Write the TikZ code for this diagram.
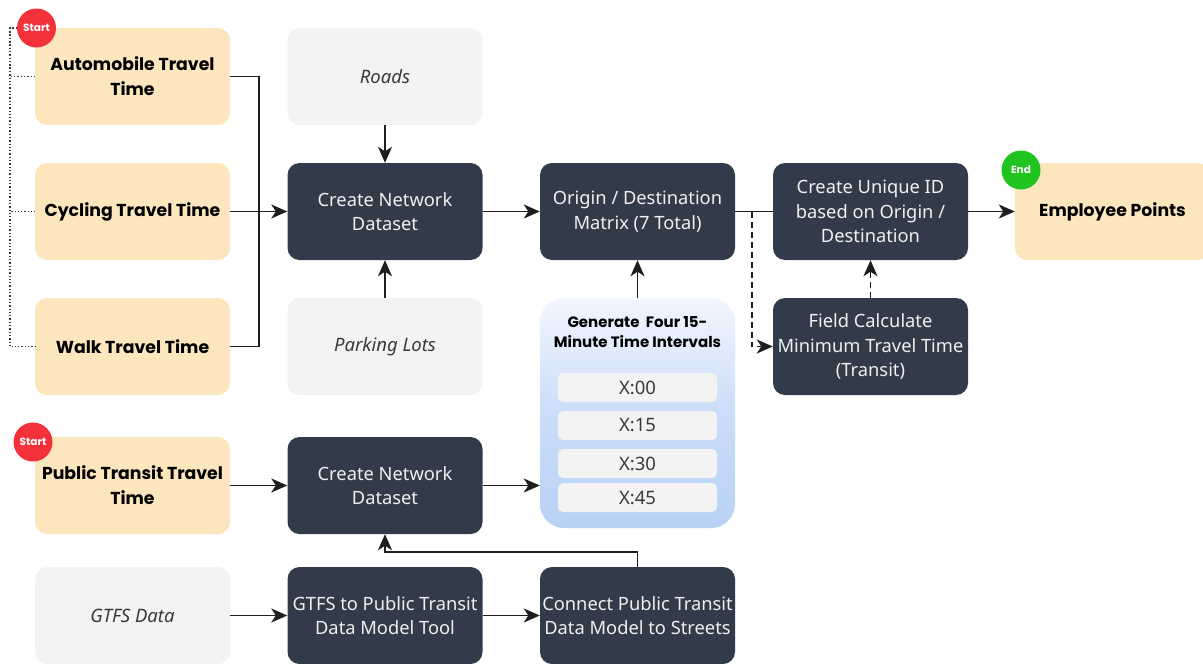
\documentclass[tikz,border=0pt]{standalone}
\usepackage{fontspec}
\setmainfont{Noto Sans}
\newfontfamily\popfont{Poppins}
\usetikzlibrary{arrows.meta}
\definecolor{orfill}{HTML}{FCE6BE}
\definecolor{dkfill}{HTML}{323B4A}
\definecolor{gyfill}{HTML}{F3F3F3}
\definecolor{gytext}{HTML}{3A3A3A}
\definecolor{startred}{HTML}{F2313B}
\definecolor{endgreen}{HTML}{1FC41F}
\definecolor{bluetop}{HTML}{F2F6FE}
\definecolor{bluemid}{HTML}{CBDDF9}
\definecolor{bluebot}{HTML}{B8D2F6}
\definecolor{linec}{HTML}{1E1E1E}
\tikzset{
  box/.style={rounded corners=12pt, minimum width=195pt, minimum height=97pt, align=center, inner sep=2pt},
  orbox/.style={box, fill=orfill, text=black, font=\popfont\bfseries\fontsize{17.3}{25}\selectfont},
  dkbox/.style={box, fill=dkfill, text=white!94!black, font=\fontsize{18.3}{24.5}\selectfont},
  gybox/.style={box, fill=gyfill, text=gytext, font=\itshape\fontsize{18.5}{25}\selectfont},
  subbox/.style={rounded corners=5pt, fill=gyfill, minimum width=159pt, minimum height=29pt, text=gytext, font=\fontsize{18.5}{20}\selectfont, inner sep=0pt},
  badge/.style={circle, minimum size=39pt, inner sep=0pt, text=white, font=\popfont\bfseries\fontsize{10.5}{12}\selectfont},
  conn/.style={draw=linec, line width=1.8pt},
  tip/.style={-{Stealth[length=16pt,width=14pt,inset=4.5pt]}},
  arr/.style={conn, tip},
  dotl/.style={draw=gytext, line width=1.3pt, dotted},
  dashl/.style={draw=linec, line width=1.8pt, dash pattern=on 6pt off 4pt},
}
\begin{document}
\begin{tikzpicture}[x=1pt,y=-1pt]
\useasboundingbox (0,0) rectangle (1203,664);
\clip (0,0) rectangle (1203,664);
% column 1
\node[orbox] (auto) at (132.5,76.5) {Automobile Travel\\Time};
\node[orbox] (cyc) at (132.5,211.5) {Cycling Travel Time};
\node[orbox] (walk) at (132.5,346.5) {Walk Travel Time};
\node[orbox] (pub) at (132.5,485.5) {Public Transit Travel\\Time};
\node[gybox] (gtfsd) at (132.5,615.5) {GTFS Data};
% column 2
\node[gybox] (roads) at (385,76.5) {Roads};
\node[dkbox] (cn1) at (385,211.5) {Create Network\\Dataset};
\node[gybox] (park) at (385,346.5) {Parking Lots};
\node[dkbox] (cn2) at (385,485.5) {Create Network\\Dataset};
\node[dkbox] (gtool) at (385,615.5) {GTFS to Public Transit\\Data Model Tool};
% column 3
\node[dkbox] (od) at (637.5,211.5) {Origin / Destination\\Matrix (7 Total)};
\node[box, rounded corners=24pt, minimum height=230pt, top color=bluetop, bottom color=bluebot, middle color=bluemid] (gen) at (637.5,413) {};
\node[font=\popfont\bfseries\fontsize{15}{20}\selectfont, align=center, text=black] (gent) at (637.5,332) {Generate\ \ Four 15-\\Minute Time Intervals};
\node[subbox] (s0) at (637.5,387.5) {X:00};
\node[subbox] (s1) at (637.5,425.5) {X:15};
\node[subbox] (s2) at (637.5,463.5) {X:30};
\node[subbox] (s3) at (637.5,497.5) {X:45};
\node[dkbox] (conn) at (637.5,615.5) {Connect Public Transit\\Data Model to Streets};
% column 4
\node[dkbox] (uid) at (870.5,211.5) {Create Unique ID\\based on Origin /\\Destination};
\node[dkbox] (field) at (870.5,346.5) {Field Calculate\\Minimum Travel Time\\(Transit)};
% column 5
\node[orbox] (emp) at (1112.5,211.5) {Employee Points};
% badges
\node[badge, fill=startred] (st1) at (36.5,28) {Start};
\node[badge, fill=startred] (st2) at (33,442) {Start};
\node[badge, fill=endgreen] (en) at (1021,170) {End};
% dotted start connectors
\coordinate (dtop) at (10,28);
\draw[dotl] (st1.west) -- (dtop) |- (auto.west);
\draw[dotl] (dtop) |- (cyc.west);
\draw[dotl] (dtop) |- (walk.west);
% bracket
\coordinate (jn) at (259,211.5);
\draw[conn] (auto.east) -| (jn) |- (walk.east);
\draw[arr] (cyc.east) -- (cn1.west);
\draw[arr] (roads.south) -- (cn1.north);
\draw[arr] (park.north) -- (cn1.south);
\draw[arr] (cn1.east) -- (od.west);
\draw[conn] (od.east) -- (uid.west);
\coordinate (dj) at (752,211.5);
\draw[dashl, tip] (dj) |- (field.west);
\draw[dashl, tip] (field.north) -- (uid.south);
\draw[arr] (uid.east) -- (emp.west);
\draw[arr] (gen.north) -- (od.south);
\draw[arr] (pub.east) -- (cn2.west);
\draw[arr] (cn2.east) -- (gen.west |- cn2.east);
\draw[arr] (gtfsd.east) -- (gtool.west);
\draw[arr] (gtool.east) -- (conn.west);
\coordinate (rt) at (637.5,552);
\draw[arr] (conn.north) -- (rt) -| (cn2.south);
\end{tikzpicture}
\end{document}
